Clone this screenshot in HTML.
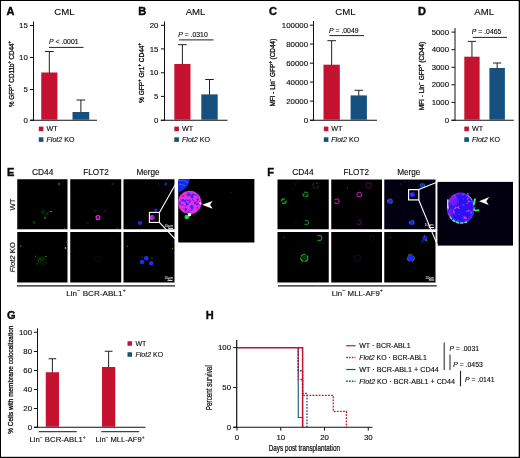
<!DOCTYPE html>
<html lang="en"><head><meta charset="utf-8"><title>Figure</title>
<style>
html,body{margin:0;padding:0;background:#fff;}
body{width:520px;height:458px;overflow:hidden;}
svg{display:block;font-family:'Liberation Sans', Arial, Helvetica, sans-serif;fill:#0a0a0a;}
svg text{stroke:#0a0a0a;stroke-width:0.12px;}
svg text.w{stroke:none;}
svg text.s2{stroke-width:0.22px;}
svg text.s3{stroke-width:0.3px;}
svg text.s4{stroke-width:0.4px;}

</style></head><body>
<svg width="520" height="458" viewBox="0 0 520 458" font-family="'Liberation Sans', Arial, Helvetica, sans-serif">
<rect x="0" y="0" width="520" height="458" fill="#fff"/>
<text x="6.4" y="14.8" font-size="11" text-anchor="start" font-weight="bold" class="s4">A</text>
<text x="64.5" y="15" font-size="9.6" text-anchor="middle" >CML</text>
<line x1="33.5" y1="21.5" x2="33.5" y2="120.75" stroke="#111" stroke-width="1" />
<line x1="30" y1="120.25" x2="97" y2="120.25" stroke="#111" stroke-width="1" />
<line x1="29.9" y1="25.5" x2="33.5" y2="25.5" stroke="#111" stroke-width="1" />
<text transform="translate(27.8,28.1) scale(1.09,1)" font-size="7.2" text-anchor="end">15</text>
<line x1="29.9" y1="57.5" x2="33.5" y2="57.5" stroke="#111" stroke-width="1" />
<text transform="translate(27.8,60.1) scale(1.09,1)" font-size="7.2" text-anchor="end">10</text>
<line x1="29.9" y1="89.5" x2="33.5" y2="89.5" stroke="#111" stroke-width="1" />
<text transform="translate(27.8,92.1) scale(1.09,1)" font-size="7.2" text-anchor="end">5</text>
<line x1="29.9" y1="120.25" x2="33.5" y2="120.25" stroke="#111" stroke-width="1" />
<text transform="translate(27.8,122.85) scale(1.09,1)" font-size="7.2" text-anchor="end">0</text>
<line x1="49.325" y1="51.5" x2="49.325" y2="73.0" stroke="#222" stroke-width="1" />
<line x1="44.925000000000004" y1="51.5" x2="53.725" y2="51.5" stroke="#222" stroke-width="1" />
<rect x="41.25" y="72.5" width="16.15" height="47.25" fill="#C41230" />
<line x1="80.875" y1="100" x2="80.875" y2="112.5" stroke="#222" stroke-width="1" />
<line x1="76.475" y1="100" x2="85.275" y2="100" stroke="#222" stroke-width="1" />
<rect x="72.5" y="112" width="16.75" height="7.75" fill="#15507F" />
<text x="49" y="44" font-size="6.85" text-anchor="start" ><tspan font-style="italic">P</tspan> &lt; .0001</text>
<line x1="49" y1="47.4" x2="83.5" y2="47.4" stroke="#222" stroke-width="1" />
<rect x="38.8" y="126.6" width="4.6" height="4.6" fill="#C41230" />
<text x="46.5" y="131.3" font-size="7.2" text-anchor="start" >WT</text>
<rect x="38.8" y="137.3" width="4.6" height="4.6" fill="#15507F" />
<text x="46.5" y="142.2" font-size="7.1" text-anchor="start" ><tspan font-style="italic">Flot2</tspan> KO</text>
<text transform="translate(14.2,107) rotate(-90)" font-size="7" text-anchor="start" textLength="66" lengthAdjust="spacingAndGlyphs" class="s3">% GFP<tspan font-size="4.6" dy="-3.1">+</tspan><tspan dy="3.1" font-size="1">&#8203;</tspan> CD11b<tspan font-size="4.6" dy="-3.1">+</tspan><tspan dy="3.1" font-size="1">&#8203;</tspan> CD44<tspan font-size="4.6" dy="-3.1">+</tspan><tspan dy="3.1" font-size="1">&#8203;</tspan></text>
<text x="138.3" y="14.8" font-size="11" text-anchor="start" font-weight="bold" class="s4">B</text>
<text x="195.5" y="15" font-size="9.6" text-anchor="middle" >AML</text>
<line x1="164.5" y1="21.5" x2="164.5" y2="120.75" stroke="#111" stroke-width="1" />
<line x1="160.8" y1="120.25" x2="227.5" y2="120.25" stroke="#111" stroke-width="1" />
<line x1="160.9" y1="25.3" x2="164.5" y2="25.3" stroke="#111" stroke-width="1" />
<text transform="translate(158.4,27.900000000000002) scale(1.09,1)" font-size="7.2" text-anchor="end">20</text>
<line x1="160.9" y1="48.9" x2="164.5" y2="48.9" stroke="#111" stroke-width="1" />
<text transform="translate(158.4,51.5) scale(1.09,1)" font-size="7.2" text-anchor="end">15</text>
<line x1="160.9" y1="72.8" x2="164.5" y2="72.8" stroke="#111" stroke-width="1" />
<text transform="translate(158.4,75.39999999999999) scale(1.09,1)" font-size="7.2" text-anchor="end">10</text>
<line x1="160.9" y1="96.4" x2="164.5" y2="96.4" stroke="#111" stroke-width="1" />
<text transform="translate(158.4,99.0) scale(1.09,1)" font-size="7.2" text-anchor="end">5</text>
<line x1="160.9" y1="120.25" x2="164.5" y2="120.25" stroke="#111" stroke-width="1" />
<text transform="translate(158.4,122.85) scale(1.09,1)" font-size="7.2" text-anchor="end">0</text>
<line x1="182.4" y1="44.7" x2="182.4" y2="64.5" stroke="#222" stroke-width="1" />
<line x1="178.1" y1="44.7" x2="186.70000000000002" y2="44.7" stroke="#222" stroke-width="1" />
<rect x="174.3" y="64" width="16.2" height="55.75" fill="#C41230" />
<line x1="209.5" y1="79.5" x2="209.5" y2="94.9" stroke="#222" stroke-width="1" />
<line x1="205.2" y1="79.5" x2="213.8" y2="79.5" stroke="#222" stroke-width="1" />
<rect x="201.3" y="94.4" width="16.4" height="25.35" fill="#15507F" />
<text x="178.2" y="36.8" font-size="6.85" text-anchor="start" ><tspan font-style="italic">P</tspan> = .0310</text>
<line x1="179" y1="39.9" x2="213.6" y2="39.9" stroke="#222" stroke-width="1" />
<rect x="174.3" y="126.6" width="4.6" height="4.6" fill="#C41230" />
<text x="182" y="131.3" font-size="7.2" text-anchor="start" >WT</text>
<rect x="174.3" y="137.3" width="4.6" height="4.6" fill="#15507F" />
<text x="182" y="142.2" font-size="7.1" text-anchor="start" ><tspan font-style="italic">Flot2</tspan> KO</text>
<text transform="translate(144.2,103) rotate(-90)" font-size="7" text-anchor="start" textLength="60" lengthAdjust="spacingAndGlyphs" class="s3">% GFP<tspan font-size="4.6" dy="-3.1">+</tspan><tspan dy="3.1" font-size="1">&#8203;</tspan> Gr1<tspan font-size="4.6" dy="-3.1">+</tspan><tspan dy="3.1" font-size="1">&#8203;</tspan> CD44<tspan font-size="4.6" dy="-3.1">+</tspan><tspan dy="3.1" font-size="1">&#8203;</tspan></text>
<text x="269" y="14.8" font-size="11" text-anchor="start" font-weight="bold" class="s4">C</text>
<text x="345.5" y="15" font-size="9.6" text-anchor="middle" >CML</text>
<line x1="313.5" y1="21" x2="313.5" y2="120.75" stroke="#111" stroke-width="1" />
<line x1="310" y1="120.25" x2="377" y2="120.25" stroke="#111" stroke-width="1" />
<line x1="309.9" y1="25.2" x2="313.5" y2="25.2" stroke="#111" stroke-width="1" />
<text transform="translate(308,27.8) scale(1.09,1)" font-size="7.2" text-anchor="end">100000</text>
<line x1="309.9" y1="44.1" x2="313.5" y2="44.1" stroke="#111" stroke-width="1" />
<text transform="translate(308,46.7) scale(1.09,1)" font-size="7.2" text-anchor="end">80000</text>
<line x1="309.9" y1="63.2" x2="313.5" y2="63.2" stroke="#111" stroke-width="1" />
<text transform="translate(308,65.8) scale(1.09,1)" font-size="7.2" text-anchor="end">60000</text>
<line x1="309.9" y1="82.1" x2="313.5" y2="82.1" stroke="#111" stroke-width="1" />
<text transform="translate(308,84.69999999999999) scale(1.09,1)" font-size="7.2" text-anchor="end">40000</text>
<line x1="309.9" y1="101.1" x2="313.5" y2="101.1" stroke="#111" stroke-width="1" />
<text transform="translate(308,103.69999999999999) scale(1.09,1)" font-size="7.2" text-anchor="end">20000</text>
<line x1="309.9" y1="120.25" x2="313.5" y2="120.25" stroke="#111" stroke-width="1" />
<text transform="translate(308,122.85) scale(1.09,1)" font-size="7.2" text-anchor="end">0</text>
<line x1="331.65" y1="40.7" x2="331.65" y2="65.2" stroke="#222" stroke-width="1" />
<line x1="327.34999999999997" y1="40.7" x2="335.95" y2="40.7" stroke="#222" stroke-width="1" />
<rect x="323.5" y="64.7" width="16.3" height="55.05" fill="#C41230" />
<line x1="358.75" y1="90.3" x2="358.75" y2="95.9" stroke="#222" stroke-width="1" />
<line x1="354.45" y1="90.3" x2="363.05" y2="90.3" stroke="#222" stroke-width="1" />
<rect x="350.6" y="95.4" width="16.3" height="24.35" fill="#15507F" />
<text x="329" y="33.3" font-size="6.85" text-anchor="start" ><tspan font-style="italic">P</tspan> = .0049</text>
<line x1="329.5" y1="35.6" x2="364" y2="35.6" stroke="#222" stroke-width="1" />
<rect x="323.8" y="126.6" width="4.6" height="4.6" fill="#C41230" />
<text x="331.25" y="131.3" font-size="7.2" text-anchor="start" >WT</text>
<rect x="323.8" y="137.3" width="4.6" height="4.6" fill="#15507F" />
<text x="331.25" y="142.2" font-size="7.1" text-anchor="start" ><tspan font-style="italic">Flot2</tspan> KO</text>
<text transform="translate(274.7,106.5) rotate(-90)" font-size="7" text-anchor="start" textLength="67.8" lengthAdjust="spacingAndGlyphs" class="s3">MFI - Lin<tspan font-size="4.6" dy="-3.1">&#8722;</tspan><tspan dy="3.1" font-size="1">&#8203;</tspan> GFP<tspan font-size="4.6" dy="-3.1">+</tspan><tspan dy="3.1" font-size="1">&#8203;</tspan> (CD44)</text>
<text x="418" y="14.8" font-size="11" text-anchor="start" font-weight="bold" class="s4">D</text>
<text x="484.2" y="15" font-size="9.6" text-anchor="middle" >AML</text>
<line x1="455" y1="28" x2="455" y2="120.75" stroke="#111" stroke-width="1" />
<line x1="451.5" y1="120.25" x2="513.75" y2="120.25" stroke="#111" stroke-width="1" />
<line x1="451.4" y1="32.1" x2="455" y2="32.1" stroke="#111" stroke-width="1" />
<text transform="translate(449.1,34.7) scale(1.09,1)" font-size="7.2" text-anchor="end">5000</text>
<line x1="451.4" y1="49.7" x2="455" y2="49.7" stroke="#111" stroke-width="1" />
<text transform="translate(449.1,52.300000000000004) scale(1.09,1)" font-size="7.2" text-anchor="end">4000</text>
<line x1="451.4" y1="67.3" x2="455" y2="67.3" stroke="#111" stroke-width="1" />
<text transform="translate(449.1,69.89999999999999) scale(1.09,1)" font-size="7.2" text-anchor="end">3000</text>
<line x1="451.4" y1="84.8" x2="455" y2="84.8" stroke="#111" stroke-width="1" />
<text transform="translate(449.1,87.39999999999999) scale(1.09,1)" font-size="7.2" text-anchor="end">2000</text>
<line x1="451.4" y1="102.4" x2="455" y2="102.4" stroke="#111" stroke-width="1" />
<text transform="translate(449.1,105.0) scale(1.09,1)" font-size="7.2" text-anchor="end">1000</text>
<line x1="451.4" y1="120.25" x2="455" y2="120.25" stroke="#111" stroke-width="1" />
<text transform="translate(449.1,122.85) scale(1.09,1)" font-size="7.2" text-anchor="end">0</text>
<line x1="471.95000000000005" y1="41.4" x2="471.95000000000005" y2="57.2" stroke="#222" stroke-width="1" />
<line x1="467.85" y1="41.4" x2="476.05000000000007" y2="41.4" stroke="#222" stroke-width="1" />
<rect x="464.3" y="56.7" width="15.3" height="63.05" fill="#C41230" />
<line x1="497.15" y1="63" x2="497.15" y2="68.5" stroke="#222" stroke-width="1" />
<line x1="493.04999999999995" y1="63" x2="501.25" y2="63" stroke="#222" stroke-width="1" />
<rect x="489.4" y="68" width="15.5" height="51.75" fill="#15507F" />
<text x="471.8" y="34" font-size="6.85" text-anchor="start" ><tspan font-style="italic">P</tspan> = .0465</text>
<line x1="472.8" y1="37.4" x2="507" y2="37.4" stroke="#222" stroke-width="1" />
<rect x="464.3" y="126.6" width="4.6" height="4.6" fill="#C41230" />
<text x="472" y="131.3" font-size="7.2" text-anchor="start" >WT</text>
<rect x="464.3" y="137.3" width="4.6" height="4.6" fill="#15507F" />
<text x="472" y="142.2" font-size="7.1" text-anchor="start" ><tspan font-style="italic">Flot2</tspan> KO</text>
<text transform="translate(423.9,110.3) rotate(-90)" font-size="7" text-anchor="start" textLength="68.6" lengthAdjust="spacingAndGlyphs" class="s3">MFI - Lin<tspan font-size="4.6" dy="-3.1">&#8722;</tspan><tspan dy="3.1" font-size="1">&#8203;</tspan> GFP<tspan font-size="4.6" dy="-3.1">+</tspan><tspan dy="3.1" font-size="1">&#8203;</tspan> (CD44)</text>
<defs><filter id="b1" x="-50%" y="-50%" width="200%" height="200%"><feGaussianBlur stdDeviation="0.6"/></filter><filter id="b2" x="-50%" y="-50%" width="200%" height="200%"><feGaussianBlur stdDeviation="0.9"/></filter><filter id="b0" x="-50%" y="-50%" width="200%" height="200%"><feGaussianBlur stdDeviation="0.35"/></filter><clipPath id="cE"><rect x="178.2" y="179" width="76.2" height="63.5"/></clipPath><clipPath id="cF"><rect x="437.4" y="181.9" width="75.6" height="63.7"/></clipPath><radialGradient id="gE"><stop offset="0" stop-color="#5a28e8"/><stop offset="0.6" stop-color="#a024e0"/><stop offset="1" stop-color="#ff30d8"/></radialGradient><radialGradient id="gF"><stop offset="0" stop-color="#2a10f0"/><stop offset="0.75" stop-color="#4a18e8"/><stop offset="1" stop-color="#b030e0"/></radialGradient><filter id="texE" x="-10%" y="-10%" width="120%" height="120%" color-interpolation-filters="sRGB"><feTurbulence type="fractalNoise" baseFrequency="0.33" numOctaves="2" seed="7" result="n"/><feDisplacementMap in="SourceGraphic" in2="n" scale="1.6" xChannelSelector="R" yChannelSelector="G" result="d"/><feColorMatrix in="n" type="matrix" values="0 0 0 0 0.22  0 0 0 0 0.16  0 0 0 0 0.96  0 4.5 0 0 -1.95" result="m"/><feMorphology in="d" operator="erode" radius="1.3" result="core"/><feGaussianBlur in="core" stdDeviation="0.8" result="coreb"/><feComposite in="m" in2="coreb" operator="in" result="mm"/><feMerge result="all"><feMergeNode in="d"/><feMergeNode in="mm"/></feMerge><feGaussianBlur in="all" stdDeviation="0.45"/></filter><filter id="texF" x="-10%" y="-10%" width="120%" height="120%" color-interpolation-filters="sRGB"><feTurbulence type="fractalNoise" baseFrequency="0.3" numOctaves="2" seed="11" result="n"/><feDisplacementMap in="SourceGraphic" in2="n" scale="2.2" xChannelSelector="R" yChannelSelector="G" result="d"/><feColorMatrix in="n" type="matrix" values="0 0 0 0 0.8  0 0 0 0 0.18  0 0 0 0 0.95  0 5 0 0 -2.85" result="m"/><feComposite in="m" in2="d" operator="in" result="mm"/><feMorphology in="d" operator="erode" radius="1.2" result="core"/><feGaussianBlur in="core" stdDeviation="1.2" result="coreb"/><feFlood flood-color="#8a2cec" flood-opacity="0.75" result="fl"/><feComposite in="fl" in2="d" operator="in" result="rimfull"/><feComposite in="rimfull" in2="coreb" operator="out" result="rim"/><feMerge result="all"><feMergeNode in="d"/><feMergeNode in="rim"/><feMergeNode in="mm"/></feMerge><feGaussianBlur in="all" stdDeviation="0.45"/></filter></defs>
<text x="6.9" y="175.7" font-size="11" text-anchor="start" font-weight="bold" class="s4">E</text>
<text x="42.6" y="175.3" font-size="8.4" text-anchor="middle" >CD44</text>
<text x="96" y="175.3" font-size="8.2" text-anchor="middle" >FLOT2</text>
<text x="148" y="175.3" font-size="8.2" text-anchor="middle" >Merge</text>
<text transform="translate(14.8,204.5) rotate(-90)" font-size="7.7" text-anchor="middle"  >WT</text>
<text transform="translate(14.8,257.3) rotate(-90)" font-size="7.7" text-anchor="middle"  ><tspan font-style="italic">Flot2</tspan> KO</text>
<rect x="17.25" y="179.25" width="50.25" height="50" fill="#000" />
<rect x="17.25" y="232" width="50.25" height="50.5" fill="#000" />
<rect x="70.25" y="179.25" width="51" height="50" fill="#000" />
<rect x="70.25" y="232" width="51" height="50.5" fill="#000" />
<rect x="123.5" y="179.25" width="51" height="50" fill="#000" />
<rect x="123.5" y="232" width="51" height="50.5" fill="#000" />
<circle cx="59" cy="184" r="1.2" fill="#22dd22" opacity="0.45" filter="url(#b1)"/>
<circle cx="43" cy="212" r="1.8" fill="#22dd22" opacity="0.35" filter="url(#b2)"/>
<circle cx="46" cy="215" r="1.5" fill="#22dd22" opacity="0.3" filter="url(#b2)"/>
<circle cx="51" cy="211.5" r="0.8" fill="#22dd22" opacity="1" filter="url(#b0)"/>
<circle cx="45" cy="218" r="0.8" fill="#22dd22" opacity="1" filter="url(#b0)"/>
<circle cx="34" cy="222.5" r="1.3" fill="#22dd22" opacity="0.3" filter="url(#b1)"/>
<circle cx="47.5" cy="213" r="0.6" fill="#22dd22" opacity="0.7" filter="url(#b0)"/>
<circle cx="64.5" cy="228.5" r="0.7" fill="#22dd22" opacity="0.5" filter="url(#b0)"/>
<circle cx="98" cy="217.5" r="1.9" fill="none" stroke="#f020e8" stroke-width="1.3" opacity="1"  filter="url(#b0)"/>
<circle cx="104.5" cy="211" r="0.6" fill="#e020e0" opacity="0.6" filter="url(#b0)"/>
<circle cx="112.5" cy="184" r="1.2" fill="#e020e0" opacity="0.25" filter="url(#b1)"/>
<circle cx="87.5" cy="223" r="1.2" fill="#e020e0" opacity="0.2" filter="url(#b1)"/>
<circle cx="95" cy="211" r="1" fill="#e020e0" opacity="0.2" filter="url(#b1)"/>
<circle cx="117" cy="228.5" r="0.8" fill="#e020e0" opacity="0.5" filter="url(#b0)"/>
<circle cx="155.75" cy="210" r="1.5" fill="#1830f0" opacity="1" filter="url(#b0)"/>
<circle cx="140" cy="223" r="2" fill="#1830f0" opacity="1" filter="url(#b0)"/>
<circle cx="165.75" cy="184.3" r="1.2" fill="#1830f0" opacity="0.9" filter="url(#b0)"/>
<circle cx="166.3" cy="183" r="0.6" fill="#22dd22" opacity="0.7" filter="url(#b0)"/>
<circle cx="152" cy="217.5" r="2.5" fill="#f020e0" opacity="1" filter="url(#b0)"/>
<circle cx="152.8" cy="217.5" r="1.4" fill="#6030f0" opacity="1" filter="url(#b0)"/>
<circle cx="159" cy="184" r="0.5" fill="#22dd22" opacity="0.4" filter="url(#b0)"/>
<circle cx="171.5" cy="184" r="0.5" fill="#22dd22" opacity="0.4" filter="url(#b0)"/>
<rect x="149.4" y="212.4" width="10" height="10" fill="none" stroke="#fff" stroke-width="1.1"/>
<circle cx="20.75" cy="246" r="0.7" fill="#22dd22" opacity="0.9" filter="url(#b0)"/>
<circle cx="65.5" cy="248" r="0.9" fill="#22dd22" opacity="1" filter="url(#b0)"/>
<circle cx="66.75" cy="242" r="0.6" fill="#22dd22" opacity="0.7" filter="url(#b0)"/>
<circle cx="40" cy="260" r="3.2" fill="#22dd22" opacity="0.16" filter="url(#b2)"/>
<circle cx="43.5" cy="259" r="2.6" fill="#22dd22" opacity="0.14" filter="url(#b2)"/>
<circle cx="45.9" cy="256.6" r="0.6" fill="#22dd22" opacity="0.95" filter="url(#b0)"/>
<circle cx="35.4" cy="256.2" r="0.6" fill="#22dd22" opacity="0.7" filter="url(#b0)"/>
<circle cx="37.1" cy="263.8" r="0.6" fill="#22dd22" opacity="0.8" filter="url(#b0)"/>
<circle cx="42.9" cy="264" r="0.6" fill="#22dd22" opacity="0.6" filter="url(#b0)"/>
<circle cx="45.9" cy="263" r="0.6" fill="#22dd22" opacity="0.5" filter="url(#b0)"/>
<circle cx="40" cy="258.5" r="0.6" fill="#22dd22" opacity="0.4" filter="url(#b0)"/>
<circle cx="38.5" cy="260.5" r="0.6" fill="#22dd22" opacity="0.4" filter="url(#b0)"/>
<circle cx="97.5" cy="258.8" r="2.8" fill="none" stroke="#e020e0" stroke-width="0.9" opacity="0.16"  filter="url(#b1)"/>
<circle cx="112" cy="238" r="1.5" fill="#e020e0" opacity="0.1" filter="url(#b1)"/>
<circle cx="146.25" cy="258.25" r="2.3" fill="#1830f0" opacity="1" filter="url(#b0)"/>
<circle cx="142" cy="262" r="2.3" fill="#1830f0" opacity="1" filter="url(#b0)"/>
<circle cx="151.25" cy="263.25" r="2.3" fill="#1830f0" opacity="1" filter="url(#b0)"/>
<circle cx="127.5" cy="246.3" r="0.6" fill="#22dd22" opacity="0.7" filter="url(#b0)"/>
<circle cx="172.5" cy="248.3" r="0.6" fill="#22dd22" opacity="0.9" filter="url(#b0)"/>
<circle cx="152" cy="258.3" r="0.6" fill="#22dd22" opacity="0.8" filter="url(#b0)"/>
<circle cx="142" cy="257" r="0.6" fill="#22dd22" opacity="0.7" filter="url(#b0)"/>
<circle cx="173" cy="242" r="0.6" fill="#22dd22" opacity="0.5" filter="url(#b0)"/>
<text x="173.2" y="227" font-size="3.6" text-anchor="end" fill="#fff" class="w">10&#956;m</text>
<line x1="168.25" y1="228.3" x2="173" y2="228.3" stroke="#fff" stroke-width="1" />
<text x="173.2" y="279.2" font-size="3.6" text-anchor="end" fill="#fff" class="w">10&#956;m</text>
<line x1="167.5" y1="280.3" x2="172.5" y2="280.3" stroke="#fff" stroke-width="1" />
<rect x="178.2" y="179" width="76.2" height="63.5" fill="#000" />
<g clip-path="url(#cE)">
<path d="M176,177 H189.6 Q190.2,182 187.3,186 Q184,190.8 176,193.5 Z" fill="#152cee" filter="url(#b0)"/>
<path d="M179,180.5 Q184,179.5 188,182.5 M179,184.5 Q182,184 185,186" stroke="#3c6cff" stroke-width="1.2" fill="none" opacity="0.7" filter="url(#b1)"/>
<g filter="url(#texE)"><circle cx="189.7" cy="202.5" r="11.8" fill="#f22ce2"/></g>
<circle cx="186.8" cy="217" r="2.3" fill="#20e030" opacity="1" filter="url(#b0)"/>
<circle cx="189.6" cy="214.7" r="1.7" fill="#fff" opacity="1" filter="url(#b0)"/>
<circle cx="200.4" cy="203.5" r="1" fill="#fff" opacity="1" filter="url(#b0)"/>
<circle cx="230.9" cy="192.5" r="0.6" fill="#22dd22" opacity="0.35" filter="url(#b0)"/>
</g>
<path d="M202,204.8 L212.6,201 L210.1,204.8 L212.6,208.8 Z" fill="#fff"/>
<line x1="159.6" y1="212.2" x2="178.3" y2="179.3" stroke="#fff" stroke-width="1.1" />
<line x1="159.6" y1="222.6" x2="178.3" y2="242.4" stroke="#fff" stroke-width="1.1" />
<line x1="17" y1="285.8" x2="175" y2="285.8" stroke="#1a1a1a" stroke-width="1.3" />
<text x="66.25" y="295.5" font-size="8" text-anchor="start" textLength="59.5" lengthAdjust="spacingAndGlyphs">Lin<tspan font-size="5.6" dy="-3.1">&#8722;</tspan><tspan dy="3.1" font-size="1">&#8203;</tspan> BCR-ABL1<tspan font-size="5.6" dy="-3.1">+</tspan><tspan dy="3.1" font-size="1">&#8203;</tspan></text>
<text x="267.3" y="175.5" font-size="11" text-anchor="start" font-weight="bold" class="s4">F</text>
<text x="302.9" y="175.3" font-size="8.4" text-anchor="middle" >CD44</text>
<text x="356.3" y="175.3" font-size="8.2" text-anchor="middle" >FLOT2</text>
<text x="408.75" y="175.3" font-size="8.2" text-anchor="middle" >Merge</text>
<rect x="277.5" y="179.5" width="51.25" height="49.75" fill="#000" />
<rect x="277.5" y="232" width="51.25" height="50.5" fill="#000" />
<rect x="331.25" y="179.5" width="50.75" height="49.75" fill="#000" />
<rect x="331.25" y="232" width="50.75" height="50.5" fill="#000" />
<rect x="384.25" y="179.5" width="51.25" height="49.75" fill="#020010" />
<rect x="384.25" y="232" width="51.25" height="50.5" fill="#000" />
<circle cx="315.5" cy="185.5" r="2.8" fill="none" stroke="#22dd22" stroke-width="1.1" opacity="0.33" stroke-dasharray="3 1.2" filter="url(#b1)"/>
<circle cx="305.5" cy="194.5" r="2.5" fill="none" stroke="#22dd22" stroke-width="1.1" opacity="0.7" stroke-dasharray="4 1" filter="url(#b1)"/>
<circle cx="305.5" cy="194.5" r="2" fill="#22dd22" opacity="0.15" filter="url(#b1)"/>
<circle cx="283.75" cy="201.25" r="2.4" fill="none" stroke="#22dd22" stroke-width="1.2" opacity="0.75" stroke-dasharray="5 1.5" filter="url(#b1)"/>
<circle cx="283.75" cy="201.25" r="2" fill="#22dd22" opacity="0.15" filter="url(#b1)"/>
<circle cx="306.25" cy="222.5" r="2.2" fill="none" stroke="#22dd22" stroke-width="1.1" opacity="0.6" stroke-dasharray="5 3" filter="url(#b1)"/>
<circle cx="295" cy="184" r="0.6" fill="#22dd22" opacity="0.4" filter="url(#b0)"/>
<circle cx="297.5" cy="181.5" r="0.5" fill="#22dd22" opacity="0.4" filter="url(#b0)"/>
<circle cx="296" cy="222" r="0.5" fill="#22dd22" opacity="0.4" filter="url(#b0)"/>
<circle cx="293" cy="189" r="0.5" fill="#22dd22" opacity="0.3" filter="url(#b0)"/>
<circle cx="368.75" cy="185.5" r="2.6" fill="none" stroke="#e020e0" stroke-width="1.1" opacity="0.28"  filter="url(#b1)"/>
<circle cx="359.25" cy="194.5" r="2.3" fill="none" stroke="#e020d8" stroke-width="1.1" opacity="0.75"  filter="url(#b1)"/>
<circle cx="336.75" cy="201.25" r="2.3" fill="none" stroke="#e020d8" stroke-width="1.2" opacity="0.7" stroke-dasharray="6 1.5" filter="url(#b1)"/>
<circle cx="359.25" cy="222.5" r="2.2" fill="none" stroke="#e020e0" stroke-width="1.0" opacity="0.4" stroke-dasharray="6 2" filter="url(#b1)"/>
<circle cx="347.5" cy="188" r="0.5" fill="#e020e0" opacity="0.9" filter="url(#b0)"/>
<circle cx="422.5" cy="185.5" r="2.4" fill="#2020f0" opacity="1" filter="url(#b0)"/>
<circle cx="422.5" cy="185.5" r="2.4" fill="none" stroke="#22dd22" stroke-width="0.7" opacity="0.7" stroke-dasharray="3 3" filter="url(#b0)"/>
<circle cx="412.5" cy="194.5" r="2.6" fill="#2020f0" opacity="1" filter="url(#b0)"/>
<circle cx="411.8" cy="194.5" r="1.2" fill="#a030e8" opacity="0.7" filter="url(#b0)"/>
<circle cx="390" cy="201.25" r="2.6" fill="#2020f0" opacity="1" filter="url(#b0)"/>
<circle cx="390" cy="201.25" r="2.6" fill="none" stroke="#22dd22" stroke-width="0.7" opacity="0.7" stroke-dasharray="3 3" filter="url(#b0)"/>
<circle cx="388.3" cy="200" r="0.8" fill="#d040e0" opacity="0.8" filter="url(#b0)"/>
<circle cx="411.75" cy="222.5" r="2.5" fill="#2020f0" opacity="1" filter="url(#b0)"/>
<circle cx="411.75" cy="222.5" r="2.5" fill="none" stroke="#22dd22" stroke-width="0.7" opacity="0.7" stroke-dasharray="3 3" filter="url(#b0)"/>
<circle cx="401" cy="184" r="0.5" fill="#22dd22" opacity="0.5" filter="url(#b0)"/>
<circle cx="404.5" cy="181.5" r="0.5" fill="#22dd22" opacity="0.5" filter="url(#b0)"/>
<rect x="408.6" y="189.6" width="10.2" height="10.3" fill="none" stroke="#fff" stroke-width="1.2"/>
<circle cx="304.25" cy="258" r="3.5" fill="none" stroke="#22dd22" stroke-width="1.2" opacity="0.8" stroke-dasharray="5 1.2" filter="url(#b1)"/>
<circle cx="304.25" cy="258" r="2.5" fill="#22dd22" opacity="0.22" filter="url(#b1)"/>
<circle cx="319.25" cy="238" r="2.6" fill="none" stroke="#22dd22" stroke-width="1.1" opacity="0.65" stroke-dasharray="6 4" filter="url(#b1)"/>
<circle cx="283.75" cy="237.5" r="0.5" fill="#22dd22" opacity="0.7" filter="url(#b0)"/>
<circle cx="319.5" cy="282" r="0.5" fill="#22dd22" opacity="0.6" filter="url(#b0)"/>
<circle cx="357.5" cy="258" r="3.2" fill="none" stroke="#e020e0" stroke-width="0.9" opacity="0.2"  filter="url(#b1)"/>
<circle cx="371.75" cy="238" r="2.5" fill="none" stroke="#e020e0" stroke-width="0.9" opacity="0.12"  filter="url(#b1)"/>
<circle cx="410.75" cy="258" r="3.6" fill="#2028f0" opacity="1" filter="url(#b0)"/>
<circle cx="410.75" cy="258" r="3.7" fill="none" stroke="#22dd22" stroke-width="0.7" opacity="0.75" stroke-dasharray="4 3" filter="url(#b0)"/>
<circle cx="425" cy="238" r="2.6" fill="#2020e0" opacity="0.9" filter="url(#b0)"/>
<circle cx="422.5" cy="241" r="1.8" fill="#1818b0" opacity="0.7" filter="url(#b0)"/>
<circle cx="426.3" cy="240.3" r="0.7" fill="#22dd22" opacity="1" filter="url(#b0)"/>
<circle cx="424.3" cy="235.8" r="0.6" fill="#22dd22" opacity="0.8" filter="url(#b0)"/>
<circle cx="390.5" cy="237.5" r="0.5" fill="#22dd22" opacity="0.7" filter="url(#b0)"/>
<text x="433.6" y="226.3" font-size="3.6" text-anchor="end" fill="#fff" class="w">10&#956;m</text>
<line x1="428.75" y1="227.6" x2="434" y2="227.6" stroke="#fff" stroke-width="1" />
<text x="434.3" y="278.6" font-size="3.6" text-anchor="end" fill="#fff" class="w">10&#956;m</text>
<line x1="428.75" y1="280" x2="434.25" y2="280" stroke="#fff" stroke-width="1" />
<rect x="437.4" y="181.9" width="75.6" height="63.7" fill="#020010" />
<g clip-path="url(#cF)">
<g filter="url(#texF)"><ellipse cx="460.7" cy="208" rx="13.9" ry="15.4" fill="#2a12f2"/></g>
<ellipse cx="453.5" cy="200.5" rx="4.5" ry="5.5" fill="#c030e8" opacity="0.45" filter="url(#b2)"/>
<ellipse cx="451" cy="212" rx="2.5" ry="4" fill="#c030e8" opacity="0.4" filter="url(#b2)"/>
<path d="M450,216.5 Q453,222.3 460,223 Q465,223.3 468.5,220.8" fill="none" stroke="#38f0a8" stroke-width="1.5" stroke-dasharray="3 1.2" filter="url(#b0)"/>
<path d="M447.8,200 Q446.8,204 448,208" fill="none" stroke="#d8e8ff" stroke-width="1.6" opacity="0.9" stroke-linecap="round" filter="url(#b0)"/>
<path d="M475,199.3 Q474.2,202 473.8,204.3" fill="none" stroke="#30f050" stroke-width="2" stroke-linecap="round" filter="url(#b0)"/>
<path d="M474.2,209.3 Q476,211.3 478.6,210.2" fill="none" stroke="#30f050" stroke-width="1.8" stroke-linecap="round" filter="url(#b0)"/>
<path d="M467,195 Q470.5,197 472,200" fill="none" stroke="#40e090" stroke-width="1" opacity="0.8" filter="url(#b0)"/>
</g>
<path d="M479,201.3 L489.3,197 L486.3,201.3 L488.7,205 Z" fill="#fff"/>
<line x1="418.75" y1="189.5" x2="437.5" y2="182" stroke="#fff" stroke-width="1.1" />
<line x1="418.75" y1="200" x2="437.5" y2="245.4" stroke="#fff" stroke-width="1.1" />
<line x1="278" y1="285.8" x2="436.75" y2="285.8" stroke="#1a1a1a" stroke-width="1.3" />
<text x="331.75" y="295.5" font-size="8" text-anchor="start" textLength="51.3" lengthAdjust="spacingAndGlyphs">Lin<tspan font-size="5.6" dy="-3.1">&#8722;</tspan><tspan dy="3.1" font-size="1">&#8203;</tspan> MLL-AF9<tspan font-size="5.6" dy="-3.1">+</tspan><tspan dy="3.1" font-size="1">&#8203;</tspan></text>
<text x="7" y="318.75" font-size="11" text-anchor="start" font-weight="bold" class="s4">G</text>
<line x1="37.5" y1="328.3" x2="37.5" y2="427.75" stroke="#111" stroke-width="1" />
<line x1="34" y1="427.25" x2="145.5" y2="427.25" stroke="#111" stroke-width="1" />
<line x1="33.9" y1="332.25" x2="37.5" y2="332.25" stroke="#111" stroke-width="1" />
<text transform="translate(32,334.85) scale(1.09,1)" font-size="7.2" text-anchor="end">100</text>
<line x1="33.9" y1="351.5" x2="37.5" y2="351.5" stroke="#111" stroke-width="1" />
<text transform="translate(32,354.1) scale(1.09,1)" font-size="7.2" text-anchor="end">80</text>
<line x1="33.9" y1="370.5" x2="37.5" y2="370.5" stroke="#111" stroke-width="1" />
<text transform="translate(32,373.1) scale(1.09,1)" font-size="7.2" text-anchor="end">60</text>
<line x1="33.9" y1="389.5" x2="37.5" y2="389.5" stroke="#111" stroke-width="1" />
<text transform="translate(32,392.1) scale(1.09,1)" font-size="7.2" text-anchor="end">40</text>
<line x1="33.9" y1="408.5" x2="37.5" y2="408.5" stroke="#111" stroke-width="1" />
<text transform="translate(32,411.1) scale(1.09,1)" font-size="7.2" text-anchor="end">20</text>
<line x1="33.9" y1="427.25" x2="37.5" y2="427.25" stroke="#111" stroke-width="1" />
<text transform="translate(32,429.85) scale(1.09,1)" font-size="7.2" text-anchor="end">0</text>
<line x1="52.375" y1="358.75" x2="52.375" y2="372.75" stroke="#222" stroke-width="1" />
<line x1="48.575" y1="358.75" x2="56.175" y2="358.75" stroke="#222" stroke-width="1" />
<rect x="45.75" y="372.25" width="13.25" height="54.5" fill="#C41230" />
<line x1="108.625" y1="351.25" x2="108.625" y2="367.5" stroke="#222" stroke-width="1" />
<line x1="104.725" y1="351.25" x2="112.525" y2="351.25" stroke="#222" stroke-width="1" />
<rect x="102" y="367" width="13.25" height="59.75" fill="#C41230" />
<line x1="38.75" y1="431.6" x2="76.75" y2="431.6" stroke="#444" stroke-width="1.2" />
<line x1="101.25" y1="431.6" x2="139.25" y2="431.6" stroke="#444" stroke-width="1.2" />
<text x="29.5" y="441.7" font-size="7.6" text-anchor="start" textLength="56.2" lengthAdjust="spacingAndGlyphs">Lin<tspan font-size="4.8" dy="-3.2">&#8722;</tspan><tspan dy="3.2" font-size="1">&#8203;</tspan> BCR-ABL1<tspan font-size="4.8" dy="-3.2">+</tspan><tspan dy="3.2" font-size="1">&#8203;</tspan></text>
<text x="95.5" y="441.7" font-size="7.6" text-anchor="start" textLength="49" lengthAdjust="spacingAndGlyphs">Lin<tspan font-size="4.8" dy="-3.2">&#8722;</tspan><tspan dy="3.2" font-size="1">&#8203;</tspan> MLL-AF9<tspan font-size="4.8" dy="-3.2">+</tspan><tspan dy="3.2" font-size="1">&#8203;</tspan></text>
<rect x="127.5" y="341.25" width="4.5" height="4.5" fill="#C41230" />
<text x="135.5" y="346" font-size="7" text-anchor="start" >WT</text>
<rect x="127.5" y="352.25" width="4.5" height="4.5" fill="#15507F" />
<text x="135.5" y="357" font-size="7" text-anchor="start" ><tspan font-style="italic">Flot2</tspan> KO</text>
<text transform="translate(13,433.7) rotate(-90)" font-size="7.5" text-anchor="start" textLength="108" lengthAdjust="spacingAndGlyphs" class="s3">% Cells with membrane colocalization</text>
<text x="205.75" y="318.75" font-size="11" text-anchor="start" font-weight="bold" class="s4">H</text>
<path d="M298.25,347.65 V417.54 H302.62 V427.25" fill="none" stroke="#15507F" stroke-width="1.1"/>
<path d="M298.25,347.65 V370.73 H302.62 V393.42 H307.0 V427.25" fill="none" stroke="#15507F" stroke-width="1.3" stroke-dasharray="1.7 1.4"/>
<path d="M298.25,347.65 V379.49 H302.62 V395.41 H333.25 V411.33 H346.38 V427.25" fill="none" stroke="#C41230" stroke-width="1.3" stroke-dasharray="1.8 1.3"/>
<path d="M237.0,347.65 H302.62 V427.25" fill="none" stroke="#C41230" stroke-width="1.5"/>
<line x1="236.7" y1="340" x2="236.7" y2="427.75" stroke="#111" stroke-width="1.2" />
<line x1="233.3" y1="427.25" x2="372.5" y2="427.25" stroke="#111" stroke-width="1.1" />
<line x1="233.2" y1="347.65" x2="237" y2="347.65" stroke="#111" stroke-width="1" />
<text transform="translate(231,350.25) scale(1.09,1)" font-size="7.2" text-anchor="end">100</text>
<line x1="233.2" y1="387.45" x2="237" y2="387.45" stroke="#111" stroke-width="1" />
<text transform="translate(231,390.05) scale(1.09,1)" font-size="7.2" text-anchor="end">50</text>
<line x1="233.2" y1="427.25" x2="237" y2="427.25" stroke="#111" stroke-width="1" />
<text transform="translate(231,429.85) scale(1.09,1)" font-size="7.2" text-anchor="end">0</text>
<line x1="237.0" y1="427.25" x2="237.0" y2="430.6" stroke="#111" stroke-width="1" />
<text transform="translate(237.0,439.6) scale(1.09,1)" font-size="7.2" text-anchor="middle">0</text>
<line x1="280.75" y1="427.25" x2="280.75" y2="430.6" stroke="#111" stroke-width="1" />
<text transform="translate(280.75,439.6) scale(1.09,1)" font-size="7.2" text-anchor="middle">10</text>
<line x1="324.5" y1="427.25" x2="324.5" y2="430.6" stroke="#111" stroke-width="1" />
<text transform="translate(324.5,439.6) scale(1.09,1)" font-size="7.2" text-anchor="middle">20</text>
<line x1="368.25" y1="427.25" x2="368.25" y2="430.6" stroke="#111" stroke-width="1" />
<text transform="translate(368.25,439.6) scale(1.09,1)" font-size="7.2" text-anchor="middle">30</text>
<text transform="translate(212.1,410.2) rotate(-90)" font-size="8.6" text-anchor="start" textLength="45" lengthAdjust="spacingAndGlyphs" class="s2">Percent survival</text>
<text x="268.75" y="450.6" font-size="8.6" text-anchor="start" textLength="71.2" lengthAdjust="spacingAndGlyphs" class="s2">Days post transplantation</text>
<line x1="346.25" y1="345.75" x2="355.5" y2="345.75" stroke="#C41230" stroke-width="1.2" />
<line x1="346.25" y1="357.5" x2="355.5" y2="357.5" stroke="#C41230" stroke-width="1.3" stroke-dasharray="1.6 1.2"/>
<line x1="346.25" y1="369.5" x2="355.5" y2="369.5" stroke="#15507F" stroke-width="1.2" />
<line x1="346.25" y1="381.25" x2="355.5" y2="381.25" stroke="#15507F" stroke-width="1.3" stroke-dasharray="1.6 1.2"/>
<text x="359.25" y="348.35" font-size="7" text-anchor="start" textLength="51.3" lengthAdjust="spacingAndGlyphs">WT &#183; BCR-ABL1</text>
<text x="359.25" y="360.1" font-size="7" text-anchor="start" textLength="67.5" lengthAdjust="spacingAndGlyphs"><tspan font-style="italic">Flot2</tspan> KO &#183; BCR-ABL1</text>
<text x="359.25" y="372.1" font-size="7" text-anchor="start" textLength="79.5" lengthAdjust="spacingAndGlyphs">WT &#183; BCR-ABL1 + CD44</text>
<text x="359.25" y="383.85" font-size="7" text-anchor="start" textLength="95.7" lengthAdjust="spacingAndGlyphs"><tspan font-style="italic">Flot2</tspan> KO &#183; BCR-ABL1 + CD44</text>
<line x1="444.25" y1="342.5" x2="444.25" y2="370" stroke="#555" stroke-width="1.3" />
<line x1="450" y1="354.5" x2="450" y2="370" stroke="#555" stroke-width="1.3" />
<line x1="460.5" y1="370.75" x2="460.5" y2="386.25" stroke="#222" stroke-width="1.1" />
<text x="449.5" y="350.6" font-size="6.85" text-anchor="start" ><tspan font-style="italic">P</tspan> = .0031</text>
<text x="453.25" y="366.8" font-size="6.85" text-anchor="start" ><tspan font-style="italic">P</tspan> = .0453</text>
<text x="465" y="382.1" font-size="6.85" text-anchor="start" ><tspan font-style="italic">P</tspan> = .0141</text>
<rect x="0" y="0" width="520" height="1" fill="#000"/><rect x="0" y="0" width="1" height="458" fill="#000"/>
<rect x="518.7" y="0" width="1.3" height="458" fill="#000"/><rect x="0" y="456.8" width="520" height="1.2" fill="#000"/>
</svg>
</body></html>
